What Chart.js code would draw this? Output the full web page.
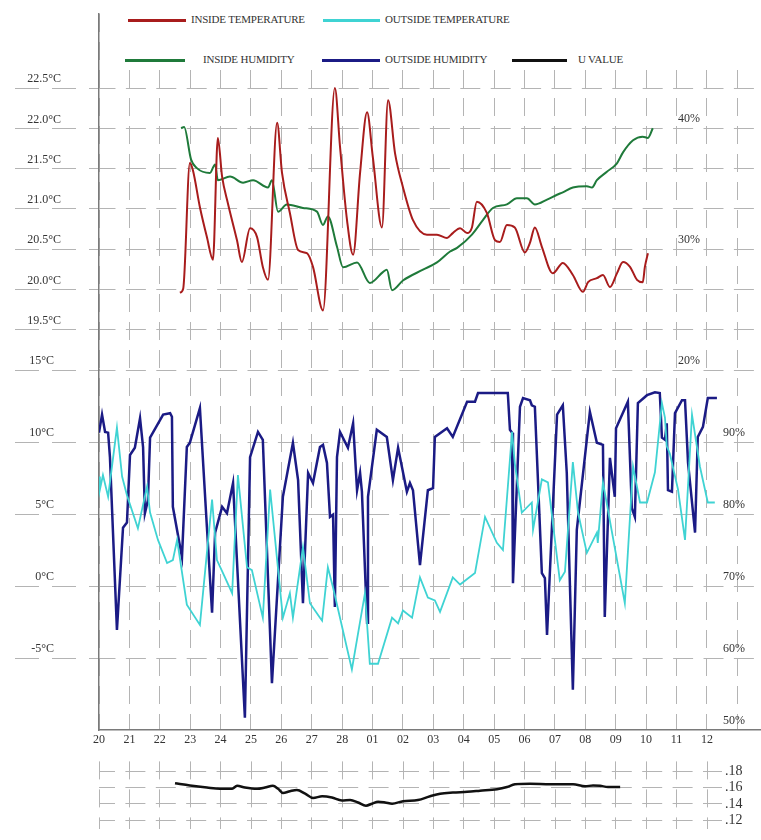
<!DOCTYPE html>
<html>
<head>
<meta charset="utf-8">
<title>Inside / outside temperature, humidity and U value</title>
<script src="https://cdn.jsdelivr.net/npm/chart.js@4.4.1/dist/chart.umd.min.js"></script>
<style>
  body { margin: 0; background: #fff; }
  #wrap { position: relative; width: 761px; height: 840px; overflow: hidden; }
  #main { position: absolute; left: 0; top: 0; }
  #uval { position: absolute; left: 0; top: 750px; }
  #legend { position: absolute; left: 104px; top: 0; width: 657px; height: 66px; background: #fff; }
  .sw { position: absolute; height: 3px; }
  .lbl { position: absolute; font: 11px 'Liberation Serif', serif; color: #333; letter-spacing: -0.2px; white-space: nowrap; line-height: 12px; }
</style>
</head>
<body>
<div id="wrap">
  <canvas id="main" width="761" height="750"></canvas>
  <canvas id="uval" width="761" height="90"></canvas>
  <div id="legend"></div>
</div>
<script>
// days since 20th (20 ... 28, 01 ... 12)
var dayLabels = ['20', '21', '22', '23', '24', '25', '26', '27', '28', '01', '02', '03', '04', '05', '06', '07', '08', '09', '10', '11', '12'];
var dayTicks = [0, 1, 2, 3, 4, 5, 6, 7, 8, 9, 10, 11, 12, 13, 14, 15, 16, 17, 18, 19, 20, 21];
var uDayTicks = [0, 1, 2, 3, 4, 5, 6, 7, 8, 9, 10, 11, 12, 13, 14, 15, 16, 17, 18, 19, 20];

var inTempTicks = [19.5, 20, 20.5, 21, 21.5, 22, 22.5];
var outTempTicks = [-5, 0, 5, 10, 15];
var inHumTicks = [20, 30, 40];
var outHumTicks = [50, 60, 70, 80, 90];
var uTicks = [0.12, 0.14, 0.16, 0.18];

var insideTempDays = [2.66, 2.77, 2.99, 3.09, 3.32, 3.55, 3.75, 3.91, 4.05, 4.24, 4.54, 4.70, 4.97, 5.20, 5.39, 5.56, 5.86, 6.02, 6.28, 6.55, 6.84, 7.04, 7.37, 7.76, 7.93, 8.16, 8.36, 8.59, 8.82, 9.01, 9.31, 9.51, 9.74, 10.00, 10.33, 10.79, 11.12, 11.45, 11.64, 11.88, 12.11, 12.27, 12.43, 12.76, 13.03, 13.19, 13.42, 13.68, 14.01, 14.18, 14.34, 14.57, 14.93, 15.26, 15.59, 15.92, 16.09, 16.38, 16.58, 16.81, 17.04, 17.24, 17.47, 17.70, 17.89, 17.96, 18.06];
var insideTempValues = [19.96, 20.01, 21.57, 21.48, 21.02, 20.65, 20.37, 21.88, 21.40, 21.07, 20.61, 20.34, 20.76, 20.65, 20.28, 20.12, 22.07, 21.45, 20.95, 20.49, 20.45, 20.28, 19.74, 22.50, 21.77, 20.86, 20.43, 21.45, 22.20, 21.64, 20.77, 22.35, 21.69, 21.27, 20.86, 20.68, 20.68, 20.64, 20.70, 20.76, 20.70, 20.77, 21.09, 20.95, 20.61, 20.59, 20.80, 20.77, 20.46, 20.58, 20.77, 20.53, 20.20, 20.33, 20.18, 19.97, 20.09, 20.14, 20.18, 20.03, 20.20, 20.34, 20.28, 20.12, 20.09, 20.28, 20.45];

var outsideTempDays = [0.00, 0.03, 0.13, 0.30, 0.59, 0.76, 0.92, 1.28, 1.58, 1.68, 1.94, 2.24, 2.43, 2.57, 2.89, 3.32, 3.72, 3.88, 4.08, 4.38, 4.57, 4.87, 5.03, 5.39, 5.63, 6.05, 6.28, 6.38, 6.71, 6.94, 7.27, 7.34, 7.53, 7.70, 8.32, 8.75, 8.91, 9.18, 9.64, 9.84, 10.00, 10.30, 10.56, 10.82, 11.05, 11.22, 11.64, 11.88, 12.37, 12.70, 13.09, 13.29, 13.59, 13.68, 13.91, 14.24, 14.28, 14.57, 14.77, 15.16, 15.33, 15.59, 15.76, 16.05, 16.38, 16.41, 16.58, 17.30, 17.57, 17.80, 18.03, 18.29, 18.52, 18.62, 18.68, 18.78, 19.05, 19.28, 19.51, 19.77, 20.03, 20.26];
var outsideTempValues = [7.6, 6.7, 7.7, 6.2, 11.0, 7.6, 6.3, 4.0, 6.9, 5.1, 3.2, 1.6, 1.8, 3.2, -1.3, -2.7, 6.0, 1.8, 0.9, -0.5, 7.7, 1.3, 1.1, -2.2, 6.7, -2.2, -0.5, -2.2, 2.7, -1.2, -2.2, -2.4, 1.3, -0.1, -5.8, -0.5, -5.4, -5.4, -2.2, -2.6, -1.7, -2.2, 0.6, -0.8, -1.0, -1.8, 0.6, 0.1, 0.9, 4.8, 3.0, 2.5, 10.7, 8.5, 5.1, 5.8, 3.9, 7.4, 7.2, 0.4, 1.0, 8.6, 5.1, 2.3, 3.7, 3.0, 7.2, -1.2, 8.3, 5.8, 5.8, 7.9, 12.7, 11.7, 9.7, 9.2, 6.7, 3.2, 11.9, 8.3, 5.8, 5.8];

var insideHumDays = [2.70, 2.80, 3.03, 3.22, 3.65, 3.82, 3.91, 4.31, 4.74, 5.07, 5.56, 5.69, 5.89, 6.18, 6.71, 7.17, 7.37, 7.53, 7.83, 8.03, 8.49, 8.91, 9.34, 9.47, 9.64, 10.00, 10.66, 11.12, 11.55, 11.78, 12.27, 12.63, 12.96, 13.42, 13.75, 14.08, 14.34, 14.74, 15.07, 15.26, 15.59, 16.05, 16.22, 16.38, 16.71, 17.04, 17.24, 17.57, 17.89, 18.06, 18.22];
var insideHumValues = [40.0, 40.1, 37.4, 36.7, 36.3, 37.0, 35.7, 36.0, 35.5, 35.7, 35.1, 35.7, 33.1, 33.7, 33.4, 33.1, 32.0, 32.7, 30.2, 28.5, 28.9, 27.2, 28.1, 28.3, 26.6, 27.4, 28.3, 28.9, 29.8, 30.1, 31.2, 32.4, 33.4, 33.7, 34.2, 34.2, 33.7, 34.1, 34.5, 34.7, 35.1, 35.2, 35.1, 35.7, 36.4, 37.1, 38.0, 39.0, 39.3, 39.2, 40.0];

var outsideHumDays = [0.00, 0.10, 0.20, 0.30, 0.36, 0.59, 0.79, 0.92, 1.02, 1.18, 1.35, 1.45, 1.51, 1.61, 1.68, 2.11, 2.34, 2.40, 2.43, 2.73, 2.89, 2.99, 3.32, 3.55, 3.72, 3.82, 4.05, 4.21, 4.41, 4.80, 4.97, 5.23, 5.39, 5.69, 6.05, 6.38, 6.55, 6.71, 6.88, 7.04, 7.27, 7.37, 7.50, 7.60, 7.70, 7.76, 7.83, 7.93, 8.19, 8.36, 8.49, 8.59, 8.65, 8.82, 8.85, 9.14, 9.47, 9.67, 9.84, 10.13, 10.23, 10.33, 10.56, 10.82, 10.99, 11.05, 11.45, 11.64, 12.11, 12.37, 12.47, 13.45, 13.52, 13.59, 13.62, 13.85, 13.95, 14.18, 14.24, 14.34, 14.57, 14.67, 14.74, 15.07, 15.26, 15.39, 15.59, 15.72, 16.15, 16.38, 16.58, 16.64, 16.81, 16.97, 17.01, 17.40, 17.53, 17.63, 17.73, 18.03, 18.29, 18.45, 18.52, 18.62, 18.68, 18.72, 18.85, 18.95, 19.18, 19.28, 19.38, 19.61, 19.70, 19.87, 20.03, 20.33];
var outsideHumValues = [91.3, 93.8, 91.4, 91.3, 87.9, 63.9, 78.1, 78.8, 88.2, 89.2, 93.3, 89.3, 80.1, 81.9, 90.6, 93.8, 94.0, 93.5, 81.0, 74.0, 89.3, 89.9, 94.7, 78.2, 66.3, 77.4, 81.0, 80.1, 84.3, 51.7, 87.9, 91.4, 90.3, 56.5, 82.4, 89.9, 84.7, 67.6, 85.7, 84.3, 89.3, 89.6, 87.1, 79.6, 79.9, 67.1, 87.9, 91.4, 89.2, 92.6, 83.3, 85.7, 83.1, 64.9, 82.4, 91.7, 90.7, 84.7, 89.2, 83.1, 84.3, 83.3, 72.9, 83.3, 83.6, 90.7, 91.9, 90.7, 95.6, 95.6, 96.8, 96.8, 91.7, 91.3, 70.4, 94.9, 96.1, 95.8, 95.1, 94.9, 71.8, 71.1, 63.2, 93.8, 95.1, 85.7, 55.6, 77.8, 94.2, 89.9, 89.6, 65.7, 87.8, 82.4, 91.9, 95.6, 80.8, 79.6, 95.4, 96.5, 96.9, 96.8, 90.6, 90.3, 92.6, 83.3, 83.1, 94.0, 95.8, 95.8, 87.1, 77.4, 90.7, 92.1, 96.1, 96.1];

var uDays = [2.50, 2.99, 3.55, 3.98, 4.38, 4.54, 4.80, 5.20, 5.46, 5.72, 5.89, 6.05, 6.28, 6.51, 6.78, 7.04, 7.34, 7.66, 7.99, 8.26, 8.52, 8.78, 8.98, 9.18, 9.41, 9.64, 10.00, 10.49, 10.89, 11.22, 11.64, 12.11, 12.53, 13.09, 13.42, 13.68, 14.18, 14.84, 15.59, 15.99, 16.25, 16.48, 16.74, 17.14];
var uValues = [0.1652, 0.1625, 0.1600, 0.1585, 0.1585, 0.1621, 0.1600, 0.1585, 0.1600, 0.1621, 0.1585, 0.1534, 0.1555, 0.1570, 0.1525, 0.1473, 0.1494, 0.1479, 0.1443, 0.1448, 0.1418, 0.1379, 0.1403, 0.1427, 0.1418, 0.1403, 0.1434, 0.1448, 0.1494, 0.1525, 0.1539, 0.1548, 0.1561, 0.1579, 0.1606, 0.1639, 0.1645, 0.1639, 0.1639, 0.1615, 0.1625, 0.1621, 0.1606, 0.1606];

// where each legend entry sits (page pixels)
var legendSlots = [
    {x: 128, w: 58, tx: 191, y: 20},
    {x: 323, w: 57, tx: 385, y: 20},
    {x: 125, w: 60, tx: 203, y: 60},
    {x: 322, w: 58, tx: 385, y: 60},
    {x: 512, w: 55, tx: 578, y: 60}
];

var gridColor = '#b4b4b4';
var axisColor = '#7a7a7a';
var textColor = '#333';
var tickFont = {family: "'Liberation Serif', serif", size: 12};

function points(days, values) {
    return days.map(function (d, i) { return {x: d, y: values[i]}; });
}
function fixTicks(values) {
    return function (scale) {
        scale.ticks = values.map(function (v) { return {value: v}; });
    };
}
function fixWidth(w) {
    return function (scale) { scale.width = w; };
}

var config = {
    type: 'line',
    data: {
        datasets: [{
            label: 'INSIDE TEMPERATURE',
            data: points(insideTempDays, insideTempValues),
            borderColor: '#a81c1c',
            borderWidth: 2,
            tension: 0.4,
            cubicInterpolationMode: 'monotone',
            yAxisID: 'yIn'
        }, {
            label: 'OUTSIDE TEMPERATURE',
            data: points(outsideTempDays, outsideTempValues),
            borderColor: '#3fd3d3',
            borderWidth: 1.8,
            tension: 0,
            yAxisID: 'yOut'
        }, {
            label: 'INSIDE HUMIDITY',
            data: points(insideHumDays, insideHumValues),
            borderColor: '#1f7a3a',
            borderWidth: 2,
            tension: 0.4,
            cubicInterpolationMode: 'monotone',
            yAxisID: 'yInH'
        }, {
            label: 'OUTSIDE HUMIDITY',
            data: points(outsideHumDays, outsideHumValues),
            borderColor: '#1b1b85',
            borderWidth: 2.5,
            tension: 0,
            yAxisID: 'yOutH'
        }]
    },
    options: {
        responsive: false,
        animation: false,
        devicePixelRatio: 1,
        layout: {padding: {top: 14, left: 0, right: 0, bottom: 0}},
        elements: {point: {radius: 0}},
        plugins: {legend: {display: false}, tooltip: {enabled: false}},
        scales: {
            x: {
                type: 'linear',
                min: 0,
                max: 21.78,
                afterBuildTicks: fixTicks(dayTicks),
                afterFit: function (s) { s.height = 20; },
                grid: {color: gridColor, drawTicks: false},
                border: {color: axisColor, width: 1.5, dash: [18, 10]},
                ticks: {
                    padding: 3, autoSkip: false, maxRotation: 0, color: textColor, font: tickFont,
                    callback: function (v) { return dayLabels[v] || ''; }
                }
            },
            yOut: {
                type: 'linear',
                position: 'left',
                stack: 'left',
                stackWeight: 360,
                min: -10,
                max: 15,
                afterBuildTicks: fixTicks(outTempTicks),
                afterFit: fixWidth(99),
                grid: {color: gridColor, tickColor: gridColor, tickLength: 84, tickBorderDash: [24, 13]},
                border: {color: axisColor, width: 1.5, dash: [20, 10.4], dashOffset: 4},
                ticks: {
                    padding: -39, labelOffset: -9, color: textColor, font: tickFont,
                    callback: function (v) { return v + '°C'; }
                }
            },
            yIn: {
                type: 'linear',
                position: 'left',
                stack: 'left',
                stackWeight: 356,
                min: 19,
                max: 23.42,
                afterBuildTicks: fixTicks(inTempTicks),
                afterFit: fixWidth(99),
                grid: {color: gridColor, tickColor: gridColor, tickLength: 84, tickBorderDash: [24, 13]},
                border: {color: axisColor, width: 1.5, dash: [20, 10.4], dashOffset: 4},
                ticks: {
                    padding: -46, labelOffset: -9, color: textColor, font: tickFont,
                    callback: function (v) { return v.toFixed(1) + '°C'; }
                }
            },
            yInH: {
                type: 'linear',
                position: 'right',
                stack: 'right',
                stackWeight: 356,
                min: 20,
                max: 49.45,
                afterBuildTicks: fixTicks(inHumTicks),
                afterFit: fixWidth(0),
                grid: {display: false, drawTicks: false},
                border: {display: false},
                ticks: {
                    mirror: true, padding: -61, labelOffset: -9, color: textColor, font: tickFont,
                    callback: function (v) { return v + '%'; }
                }
            },
            yOutH: {
                type: 'linear',
                position: 'right',
                stack: 'right',
                stackWeight: 360,
                min: 50,
                max: 100,
                afterBuildTicks: fixTicks(outHumTicks),
                afterFit: fixWidth(0),
                grid: {display: false, drawTicks: false},
                border: {display: false},
                ticks: {
                    mirror: true, padding: -16, labelOffset: -9, color: textColor, font: tickFont,
                    callback: function (v) { return v + '%'; }
                }
            }
        }
    }
};

var config2 = {
    type: 'line',
    data: {
        datasets: [{
            label: 'U VALUE',
            data: points(uDays, uValues),
            borderColor: '#111',
            borderWidth: 2.5,
            tension: 0.4,
            cubicInterpolationMode: 'monotone'
        }]
    },
    options: {
        responsive: false,
        animation: false,
        devicePixelRatio: 1,
        layout: {padding: {left: 99, top: 0, right: 0, bottom: 0}},
        elements: {point: {radius: 0}},
        plugins: {legend: {display: false}, tooltip: {enabled: false}},
        scales: {
            x: {
                type: 'linear',
                min: 0,
                max: 20.49,
                afterBuildTicks: fixTicks(uDayTicks),
                afterFit: function (s) { s.height = 0; },
                grid: {color: gridColor, drawTicks: false},
                border: {display: false, dash: [18, 10]},
                ticks: {display: false}
            },
            y: {
                type: 'linear',
                position: 'right',
                min: 0.11,
                max: 0.1918,
                afterBuildTicks: fixTicks(uTicks),
                afterFit: fixWidth(39),
                grid: {color: gridColor, drawTicks: false},
                border: {display: false, dash: [20, 10.4], dashOffset: 4},
                ticks: {
                    padding: 3, color: textColor, font: {family: "'Liberation Serif', serif", size: 14},
                    callback: function (v) { return v.toFixed(2).slice(1); }
                }
            }
        }
    }
};

window.onload = function () {
    var ctx = document.getElementById('main').getContext('2d');
    window.mainChart = new Chart(ctx, config);
    var ctx2 = document.getElementById('uval').getContext('2d');
    window.uChart = new Chart(ctx2, config2);

    // legend built from the datasets of both charts
    var box = document.getElementById('legend');
    var all = window.mainChart.data.datasets.concat(window.uChart.data.datasets);
    all.forEach(function (ds, i) {
        var slot = legendSlots[i];
        var sw = document.createElement('div');
        sw.className = 'sw';
        sw.style.left = (slot.x - 104) + 'px';
        sw.style.top = (slot.y - 1.5) + 'px';
        sw.style.width = slot.w + 'px';
        sw.style.background = ds.borderColor;
        box.appendChild(sw);
        var lbl = document.createElement('div');
        lbl.className = 'lbl';
        lbl.style.left = (slot.tx - 104) + 'px';
        lbl.style.top = (slot.y - 7) + 'px';
        lbl.textContent = ds.label;
        box.appendChild(lbl);
    });
};
</script>
</body>
</html>
